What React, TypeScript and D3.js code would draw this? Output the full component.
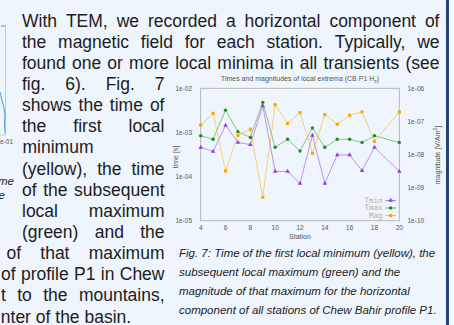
import React from "react";
import * as d3 from "d3";

// station numbers along the profile (19 missing)
const stations = [4, 5, 6, 7, 8, 9, 10, 11, 12, 13, 14, 15, 16, 17, 18, 20];
// time of first local minimum [s]
const tmin = [4.6e-4, 3.7e-4, 1.45e-3, 5.9e-4, 5.3e-4, 4.0e-3, 1.31e-4, 1.31e-4, 7.0e-5, 8.6e-4, 7.0e-5, 3.1e-4, 3.1e-4, 1.36e-4, 4.6e-4, 1.31e-4];
// time of subsequent local maximum [s]
const tmax = [8.4e-4, 7.0e-4, 3.2e-3, 1.04e-3, 7.7e-4, 4.8e-3, 4.6e-4, 7.0e-4, 3.8e-4, 1.26e-3, 4.6e-4, 7.0e-4, 7.0e-4, 5.9e-4, 8.4e-4, 5.9e-4];
// magnitude of that maximum [V/Am^2]
const mag = [7.8e-8, 1.75e-7, 3.2e-9, 3.8e-8, 5.8e-8, 5.1e-10, 3.2e-7, 8.7e-8, 1.84e-7, 1.08e-8, 1.6e-7, 8.2e-8, 1.53e-7, 1.93e-7, 2.5e-8, 1.93e-7];

const timeTicks = [1e-2, 1e-3, 1e-4, 1e-5];
const timeTickLabels = ["1e-02", "1e-03", "1e-04", "1e-05"];
const magTicks = [1e-6, 1e-7, 1e-8, 1e-9, 1e-10];
const magTickLabels = ["1e-06", "1e-07", "1e-08", "1e-09", "1e-10"];
const stationTicks = [4, 6, 8, 10, 12, 14, 16, 18, 20];

const bodyLines = [
  "With TEM, we recorded a horizontal component of",
  "the magnetic field for each station. Typically, we",
  "found one or more local minima in all transients (see",
  "fig. 6). Fig. 7",
  "shows the time of",
  "the first local",
  "minimum",
  "(yellow), the time",
  "of the subsequent",
  "local maximum",
  "(green) and the",
  "of that maximum",
  "of profile P1 in Chew",
  "t to the mountains,",
  "nter of the basin.",
];

const captionLines = [
  "Fig. 7: Time of the first local minimum (yellow), the",
  "subsequent local maximum (green) and the",
  "magnitude of that maximum for the horizontal",
  "component of all stations of Chew Bahir profile P1.",
];

const BODY_SIZE = 17.5;
const BODY_FONT = `${BODY_SIZE}px "Liberation Sans"`;

let ctx: CanvasRenderingContext2D | null = null;
const measure = (s: string) => {
  if (!ctx) ctx = document.createElement("canvas").getContext("2d");
  ctx!.font = BODY_FONT;
  return ctx!.measureText(s).width;
};

const JustLine = ({ text, x0, x1, y, justify }: any) => {
  const words = text.split(" ");
  if (!justify || words.length < 2) {
    return <text x={x0} y={y}>{text}</text>;
  }
  const widths = words.map(measure);
  const gap = (x1 - x0 - d3.sum(widths)) / (words.length - 1);
  let x = x0;
  return (
    <g>
      {words.map((w: string, i: number) => {
        const el = <text key={i} x={x} y={y}>{w}</text>;
        x += widths[i] + gap;
        return el;
      })}
    </g>
  );
};

export default function App() {
  const left = 200.7, right = 399.3, top = 88.3, bottom = 220.7;
  const x = d3.scaleLinear().domain([4, 20]).range([left, right]);
  const yL = d3.scaleLog().domain([1e-5, 1e-2]).range([bottom, top]);
  const yR = d3.scaleLog().domain([1e-10, 1e-6]).range([bottom, top]);

  const lineMin = d3.line<number>().x((_, i) => x(stations[i])).y((d) => yL(d));
  const lineMag = d3.line<number>().x((_, i) => x(stations[i])).y((d) => yR(d));

  const cPurple = "#9a3ee0", cGreen = "#1e8c1e", cOrange = "#ffa800";
  const tri = d3.symbol().type(d3.symbolTriangle).size(9)();
  const sq = d3.symbol().type(d3.symbolSquare).size(10)();
  const circ = d3.symbol().type(d3.symbolCircle).size(9)();

  const lineLayout = (i: number) => {
    if (i < 3) return { x0: 22, x1: 439.5, justify: true };
    if (i === 6) return { x0: 22.5, x1: 164.5, justify: false };
    if (i < 11) return { x0: 22, x1: 164.5, justify: true };
    if (i === 11) return { x0: 6.5, x1: 164.5, justify: true };
    if (i === 14) return { x0: 0.8, x1: 164.5, justify: false };
    return { x0: 1, x1: 164.5, justify: true };
  };

  const legend = [
    { name: "Tmin", color: cPurple, sym: tri, y: 200.5 },
    { name: "Tmax", color: cGreen, sym: circ, y: 208 },
    { name: "Mag", color: cOrange, sym: sq, y: 215.5 },
  ];

  return (
    <svg
      width={454}
      height={325}
      style={{ position: "absolute", left: 0, top: 0, background: "#eef5fc" }}
    >
      {/* partial neighbouring figure at left edge */}
      <g>
        <line x1={5.5} y1={25} x2={5.5} y2={135} stroke="#b8bcc4" strokeWidth={0.8} />
        <line x1={0} y1={135} x2={5.5} y2={135} stroke="#b8bcc4" strokeWidth={0.8} />
        <path d="M0,92 L2,101 L4,108 L5,115 L4.5,124 L5,133" fill="none" stroke="#3a8ee0" strokeWidth={0.9} />
        <path d="M1,26 L5,26" fill="none" stroke="#3a8ee0" strokeWidth={0.9} />
        <text x={0} y={144} fontSize={6.5} fill="#555" fontFamily="Liberation Sans, Arial, sans-serif">e-01</text>
        <text x={14} y={185} fontSize={11.5} fontStyle="italic" fill="#222" fontFamily="Liberation Sans, Arial, sans-serif" textAnchor="end">me</text>
        <text x={5} y={199} fontSize={11.5} fontStyle="italic" fill="#222" fontFamily="Liberation Sans, Arial, sans-serif" textAnchor="end">e</text>
      </g>

      {/* body text */}
      <g fontFamily='"Liberation Sans", Arial, sans-serif' fontSize={BODY_SIZE} fill="#1c1c1c">
        {bodyLines.map((t, i) => {
          const l = lineLayout(i);
          return <JustLine key={i} text={t} y={26.5 + i * 21.15} {...l} />;
        })}
      </g>

      {/* chart */}
      <g fontFamily='"Liberation Sans", Arial, sans-serif' fill="#555">
        <text x={300} y={81} fontSize={7} textAnchor="middle" fill="#555">
          Times and magnitudes of local extrema (CB P1 H
          <tspan fontSize={5} dy={1.5}>z</tspan>
          <tspan dy={-1.5}>)</tspan>
        </text>
        <rect x={left} y={top} width={right - left} height={bottom - top} fill="none" stroke="#a8a8a8" strokeWidth={0.8} />
        {timeTicks.map((t, i) => (
          <text key={i} x={192} y={yL(t) + 2.3} fontSize={6.5} textAnchor="end">{timeTickLabels[i]}</text>
        ))}
        {magTicks.map((t, i) => (
          <text key={i} x={407.5} y={yR(t) + 2.3} fontSize={6.5}>{magTickLabels[i]}</text>
        ))}
        {stationTicks.map((s) => (
          <text key={s} x={x(s)} y={230} fontSize={6.5} textAnchor="middle">{s}</text>
        ))}
        <text x={300} y={238.5} fontSize={7} textAnchor="middle">Station</text>
        <text transform={`translate(177.5,157) rotate(-90)`} fontSize={7} textAnchor="middle">time [s]</text>
        <text transform={`translate(439.5,155) rotate(-90)`} fontSize={7} textAnchor="middle">
          magnitude [V/Am<tspan fontSize={5} dy={-3}>2</tspan><tspan dy={3}>]</tspan>
        </text>

        <path d={lineMin(tmin) || ""} fill="none" stroke={cPurple} strokeWidth={0.7} strokeOpacity={0.8} />
        <path d={lineMin(tmax) || ""} fill="none" stroke={cGreen} strokeWidth={0.7} strokeOpacity={0.7} />
        <path d={lineMag(mag) || ""} fill="none" stroke={cOrange} strokeWidth={0.7} strokeOpacity={0.75} />
        {tmin.map((d, i) => (
          <path key={"a" + i} d={tri!} transform={`translate(${x(stations[i])},${yL(d)})`} fill={cPurple} />
        ))}
        {tmax.map((d, i) => (
          <path key={"b" + i} d={circ!} transform={`translate(${x(stations[i])},${yL(d)})`} fill={cGreen} />
        ))}
        {mag.map((d, i) => (
          <path key={"c" + i} d={sq!} transform={`translate(${x(stations[i])},${yR(d)})`} fill={cOrange} />
        ))}

        {legend.map((l) => (
          <g key={l.name}>
            <text x={382.5} y={l.y + 2.2} fontSize={7.5} textAnchor="end" fill="#b0b0b0" fontFamily='"DejaVu Sans Mono", monospace'>{l.name}</text>
            <line x1={385.5} x2={396} y1={l.y} y2={l.y} stroke={l.color} strokeWidth={0.7} />
            <path d={l.sym!} transform={`translate(390.7,${l.y})`} fill={l.color} />
          </g>
        ))}
      </g>

      {/* caption */}
      <g fontFamily='"Liberation Sans", Arial, sans-serif' fontSize={11.5} fontStyle="italic" fill="#1c1c1c">
        {captionLines.map((t, i) => (
          <text key={i} x={179} y={257 + i * 19}>{t}</text>
        ))}
      </g>

      {/* right page border */}
      <rect x={446} y={0} width={3} height={325} fill="#23427a" />
      <rect x={449} y={0} width={5} height={325} fill="#f6f9fd" />
    </svg>
  );
}
